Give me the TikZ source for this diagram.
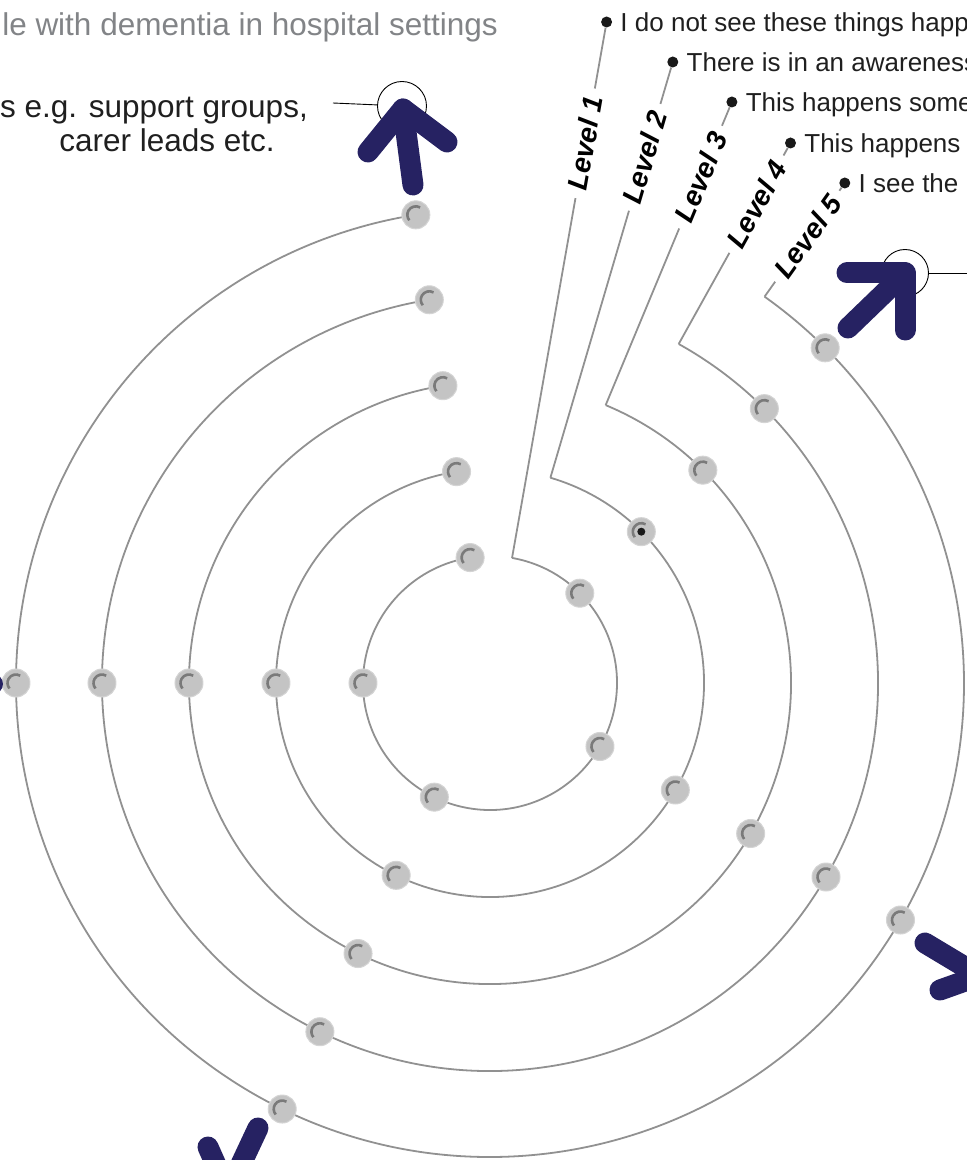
\documentclass[tikz,border=0pt]{standalone}
\usepackage{fontspec}
\setmainfont{Liberation Sans}
\usetikzlibrary{positioning}
\definecolor{navy}{RGB}{38,34,98}
\definecolor{ringgray}{RGB}{145,145,145}
\definecolor{titlegray}{RGB}{130,132,135}

\tikzset{
    ring/.style={draw=ringgray, line width=1.8pt},
    spot/.style={circle, fill=black!23, draw=black!17, line width=1pt, minimum size=28pt, inner sep=0pt,
        path picture={\draw[black!52, line width=2.6pt] (path picture bounding box.center) ++(60:8.5pt) arc[start angle=60, end angle=220, radius=8.5pt];}},
    pin/.style={circle, fill=black!90, minimum size=11pt, inner sep=0pt},
    lvl/.style={font=\fontsize{28}{30}\selectfont\bfseries\itshape, inner xsep=8pt, inner ysep=1pt},
    note/.style={font=\fontsize{26}{30}\selectfont, text=black!88, inner sep=0pt, text height=19pt, text depth=0pt},
    callout/.style={circle, draw=black, line width=0.9pt, inner sep=0pt},
    icon/.style={draw=navy, line width=21pt, line cap=round, line join=round},
}

\begin{document}
\begin{tikzpicture}[x=1pt, y=1pt]
    \useasboundingbox (-490,-477) rectangle (477,683);
    % the five rings
    \foreach \r/\a [count=\i] in {127/80,214/73.6,301/67.4,388/60.9,474/54.6} {
        \coordinate (s\i) at (\a:\r);
        \draw[ring] (s\i) arc[start angle=\a, end angle=-261, radius=\r];
    }
    % levels
    \node[pin] (p1) at (116.6,661) {};
    \node[pin] (p2) at (182.8,621) {};
    \node[pin] (p3) at (241.9,581) {};
    \node[pin] (p4) at (300.5,540) {};
    \node[pin] (p5) at (354.8,500) {};
    \node[lvl, rotate=80] (l1) at (80:548) {Level 1};
    \node[lvl, rotate=73.6] (l2) at (73.6:548) {Level 2};
    \node[lvl, rotate=67.4] (l3) at (67.4:548) {Level 3};
    \node[lvl, rotate=60.9] (l4) at (60.9:548) {Level 4};
    \node[lvl, rotate=54.6] (l5) at (54.6:548) {Level 5};
    \draw[ring] (s1) -- (l1) -- (p1);
    \draw[ring] (s2) -- (l2) -- (p2);
    \draw[ring] (s3) -- (l3) -- (p3);
    \draw[ring] (s4) -- (l4) -- (p4);
    \draw[ring] (s5) -- (l5) -- (p5);
    \node[note, right=8pt of p1] (t1) {I do not see these things happen};
    \node[note, right=8pt of p2] (t2) {There is in an awareness};
    \node[note, right=8pt of p3] (t3) {This happens sometimes};
    \node[note, right=8pt of p4] (t4) {This happens};
    \node[note, right=8pt of p5] (t5) {I see the};
    % spots on the rings
    \foreach \r [count=\i] in {127,214,301,388,474}
        \foreach \b [count=\j] in {99,45,-30,-116,180}
            \node[spot] (d\i\j) at (\b:\r) {};
    \node[pin, minimum size=8pt] (mark) at (d22) {};
    % headings
    \node[anchor=base east, inner sep=0pt, text=titlegray, font=\fontsize{31.5}{36}\selectfont] (title) at (8,647) {le with dementia in hospital settings};
    \node[anchor=base east, inner sep=0pt, text=black!88, font=\fontsize{31.5}{36}\selectfont] (links) at (-182,565) {rs e.g. support groups,};
    \node[anchor=base east, inner sep=0pt, text=black!88, font=\fontsize{31.5}{36}\selectfont] (leads) at (-215,531) {carer leads etc.};
    % callouts and icons
    \node[callout, minimum size=49pt] (o1) at (-88,577) {};
    \coordinate (e1) at (-157,580);
    \draw[line width=0.9pt] (e1) -- (o1);
    \draw[icon] (-77,498) -- (-87,574);
    \draw[icon] (-122,531) -- (-87,574) -- (-43,541);
    \node[callout, minimum size=47pt] (o2) at (415,410) {};
    \coordinate (e2) at (490,410);
    \draw[line width=0.9pt] (o2) -- (e2);
    \draw[icon] (358,355) -- (415,410);
    \draw[icon] (357,410) -- (415,410) -- (415,353);
    \draw[icon] (435,-260) -- (520,-311);
    \draw[icon] (450,-307) -- (520,-282);
    \draw[icon] (-282,-464) -- (-262,-509) -- (-232,-445);
    \fill[navy] (-497,-1) circle (10);
\end{tikzpicture}
\end{document}
